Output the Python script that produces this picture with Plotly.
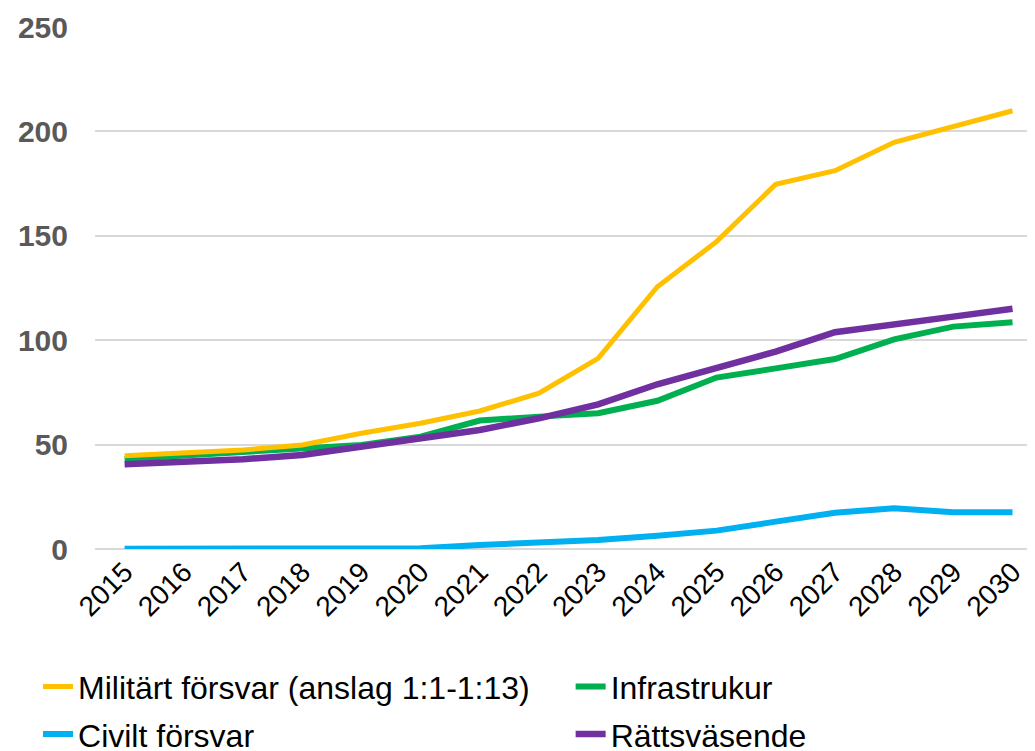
import plotly.graph_objects as go

years = [str(y) for y in range(2015, 2031)]
militart = [44.7, 45.8, 47.4, 49.8, 55.4, 60.2, 66.1, 74.6, 91.3, 125.6, 147.2, 174.7, 181.2, 194.8, 202.3, 209.9]
infra = [43.1, 44.7, 46.3, 48.2, 49.8, 53.8, 61.5, 63.4, 65.0, 71.0, 82.1, 86.5, 91.0, 100.4, 106.5, 108.6]
civilt = [0.1, 0.1, 0.2, 0.3, 0.3, 0.4, 1.9, 3.0, 4.3, 6.4, 8.8, 13.1, 17.4, 19.5, 17.6, 17.6]
ratts = [40.6, 41.8, 43.0, 45.0, 49.0, 53.0, 57.0, 62.6, 69.3, 78.9, 87.0, 94.5, 103.8, 107.3, 111.3, 115.1]
yticks = [0, 50, 100, 150, 200, 250]

names = ["Militärt försvar (anslag 1:1-1:13)", "Infrastrukur", "Civilt försvar", "Rättsväsende"]
colors = ["#FFC000", "#00B050", "#00B0F0", "#7030A0"]
widths = [5, 6, 6, 6.5]
legends = ["legend", "legend2", "legend3", "legend4"]
series = [militart, infra, civilt, ratts]

fig = go.Figure()
# draw order: blue, green, yellow, purple on top
for i in [2, 1, 0, 3]:
    fig.add_trace(go.Scatter(
        x=years, y=series[i], name=names[i], mode="lines",
        line=dict(color=colors[i], width=widths[i]),
        cliponaxis=False, legend=legends[i],
    ))

font = "Liberation Sans, Arial, sans-serif"
leg = dict(
    orientation="h", xanchor="left", yanchor="middle",
    font=dict(family=font, size=32, color="#000000"),
    bgcolor="rgba(0,0,0,0)", itemwidth=30,
)
col1, col2 = -0.0606, 0.506
row1, row2 = -0.264, -0.355
fig.update_layout(
    width=1035, height=751,
    margin=dict(l=87, r=8, t=19, b=210, autoexpand=False),
    paper_bgcolor="white", plot_bgcolor="white",
    showlegend=True,
    legend=dict(**leg, x=col1, y=row1),
    legend2=dict(**leg, x=col2, y=row1),
    legend3=dict(**leg, x=col1, y=row2),
    legend4=dict(**leg, x=col2, y=row2),
    xaxis=dict(
        type="category", tickangle=-45, showgrid=False, showline=False, zeroline=False,
        tickfont=dict(family=font, size=28, color="#000000"), ticks="",
        range=[-0.5, 15.38], automargin=False,
    ),
    yaxis=dict(
        range=[0, 250], tickvals=yticks, automargin=False,
        showgrid=True, gridcolor="#D9D9D9", gridwidth=1.5,
        zeroline=True, zerolinecolor="#D9D9D9", zerolinewidth=1.5,
        showline=False, ticks="", ticklabelstandoff=26,
        tickfont=dict(family=font, size=30, color="#595959", weight="bold"),
    ),
)
fig.write_html("out.html")
